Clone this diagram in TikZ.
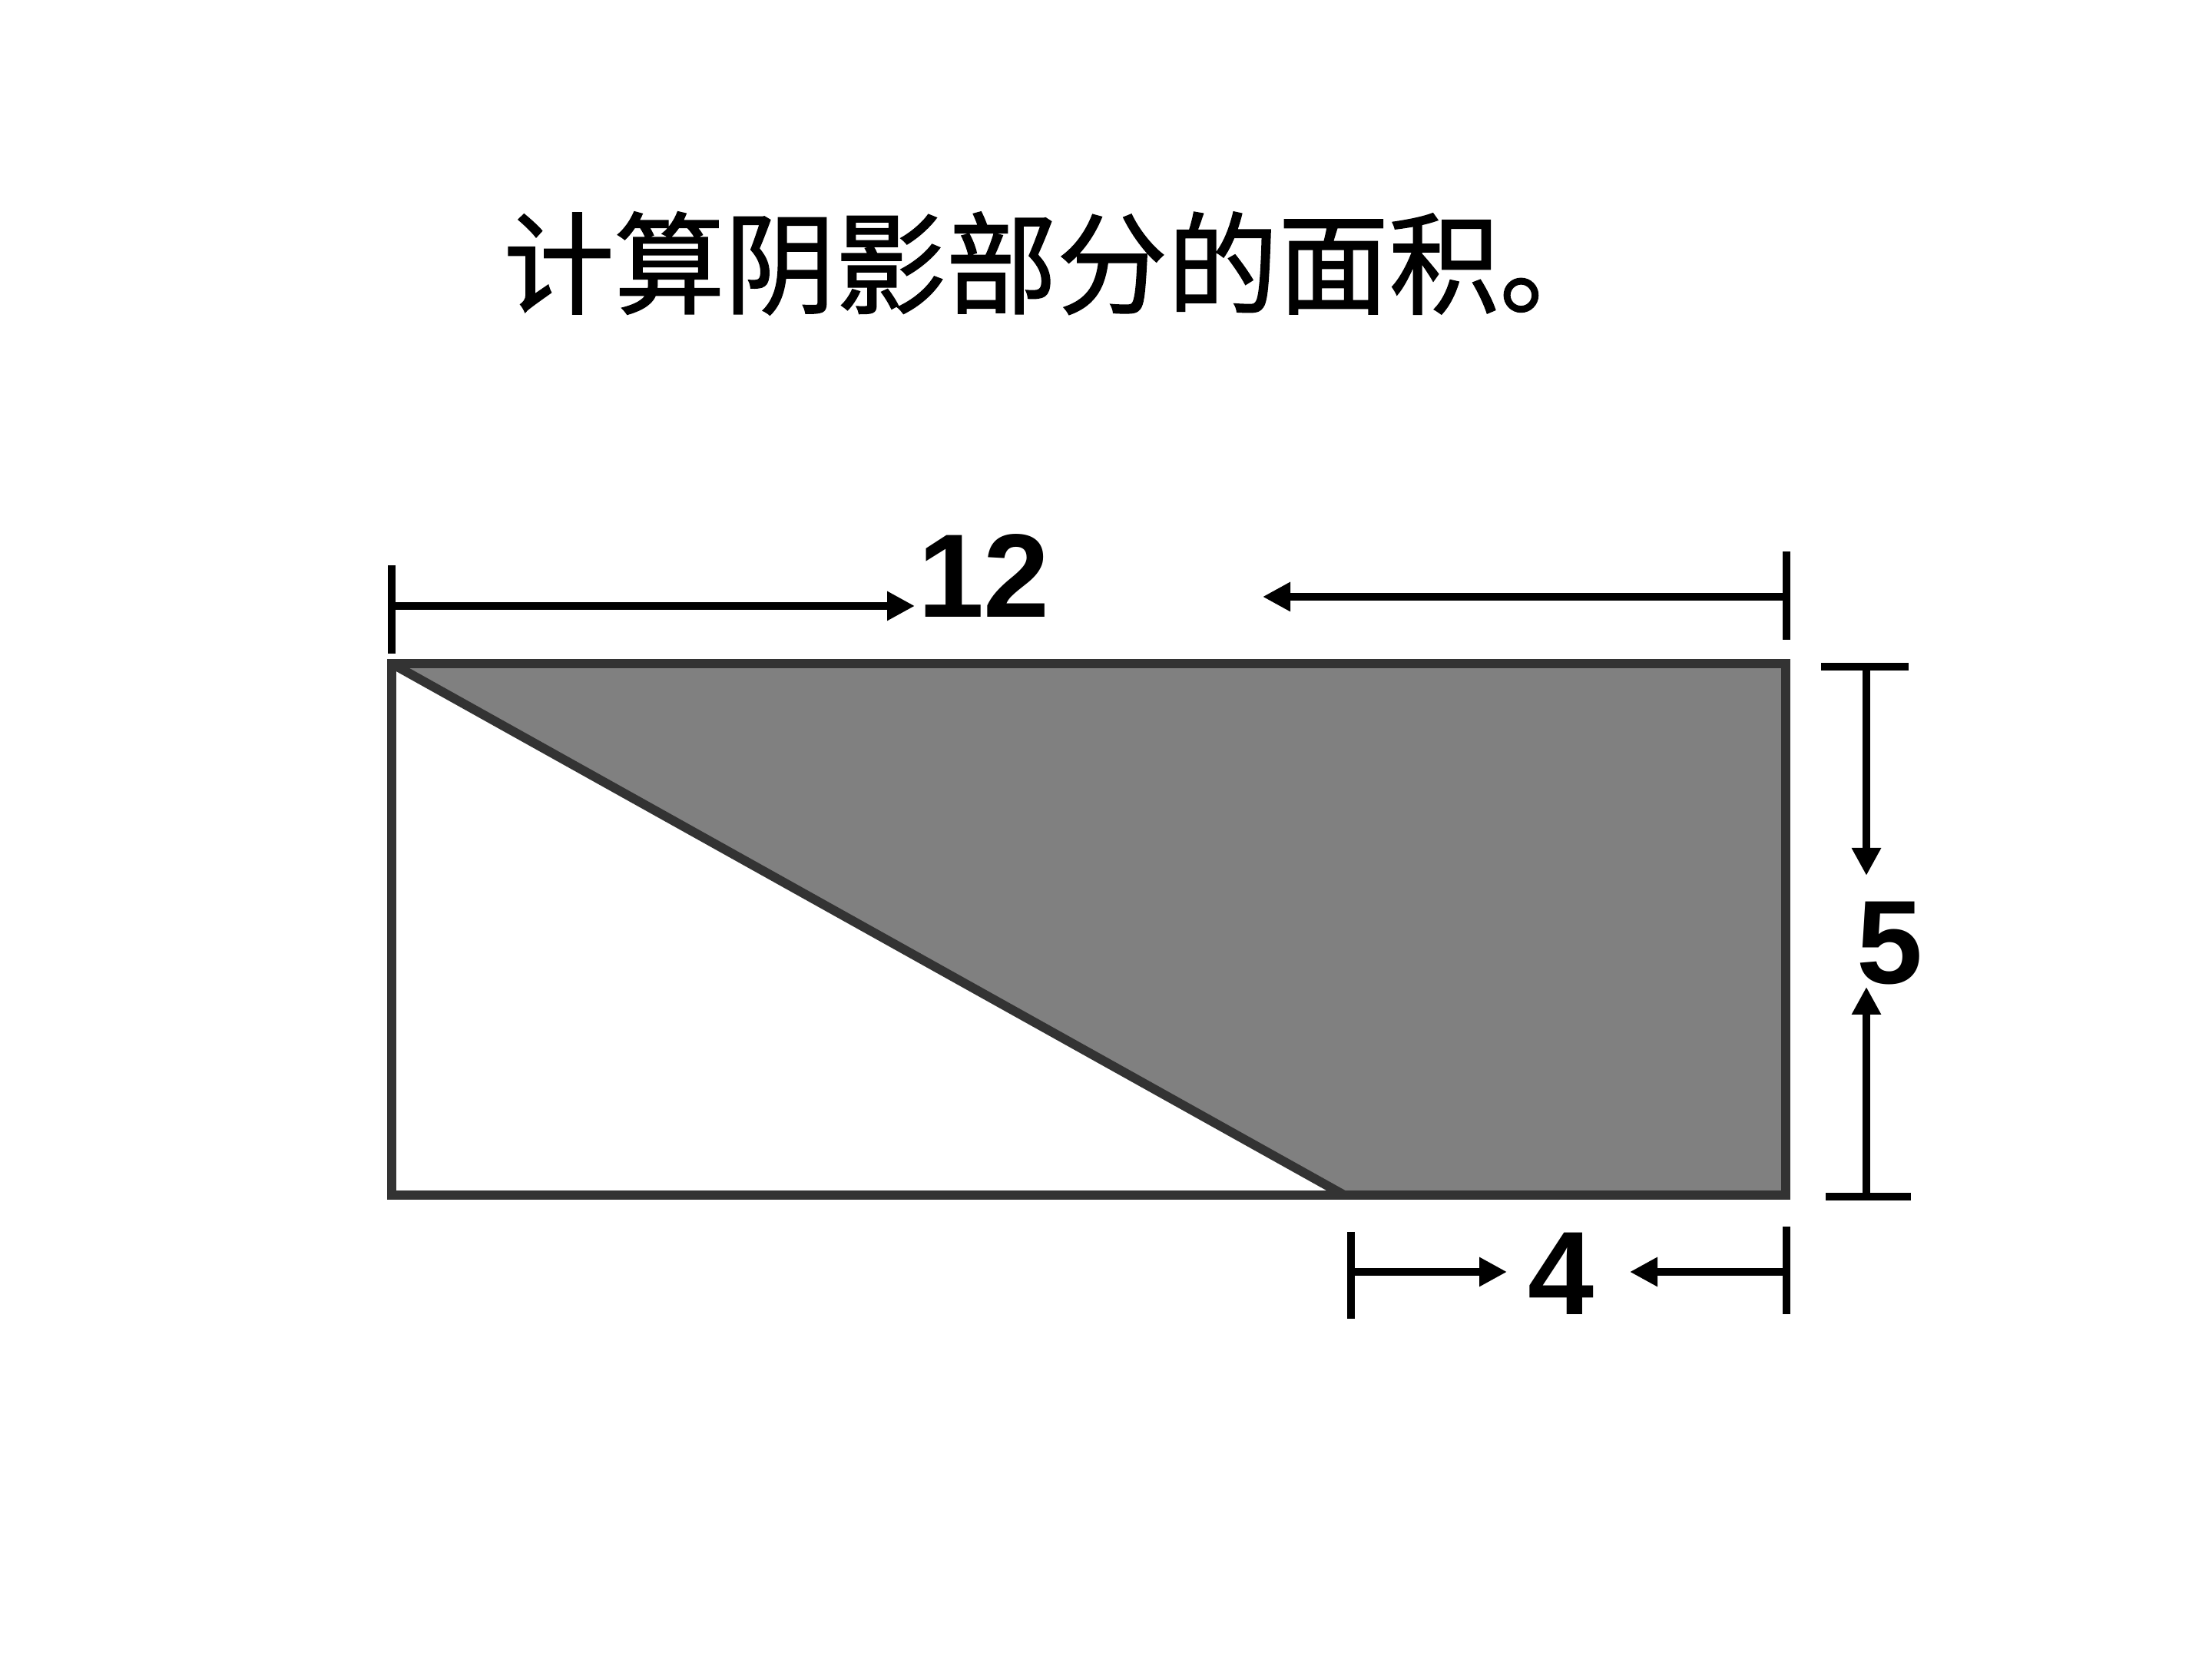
\documentclass[tikz,border=0pt]{standalone}
\usepackage{fontspec}
\setmainfont{Liberation Sans}
\newfontfamily\cjk[FakeBold=1.2]{Noto Sans CJK SC}
\usetikzlibrary{arrows.meta}

\begin{document}
\begin{tikzpicture}
  \tikzstyle{every node}+=[inner sep=0pt]
  \tikzstyle{dimline}=[black, line width=2.9pt]
  \tikzstyle{dimarrow}=[dimline, -{Triangle[length=0.36cm, width=0.36cm]}]
  \tikzstyle{numlabel}=[font=\fontsize{44}{44}\selectfont\bfseries]
  \fill [white] (0,0) rectangle (28.8,21.6);
  % title
  \node (title) at (13.76,18.17) {\cjk\fontsize{41}{41}\selectfont 计算阴影部分的面积。};
  % rectangle corners
  \coordinate (tl) at (5.10,12.96);
  \coordinate (tr) at (23.25,12.96);
  \coordinate (br) at (23.25,6.04);
  \coordinate (bl) at (5.10,6.04);
  \coordinate (cut) at (17.50,6.04);
  \fill [white] (tl) -- (tr) -- (br) -- (bl) -- cycle;
  \fill [gray] (tl) -- (tr) -- (br) -- (cut) -- cycle;
  \draw [black!80, line width=3.4pt, line join=miter] (tl) -- (tr) -- (br) -- (bl) -- cycle;
  \draw [black!80, line width=3.4pt] (tl) -- (cut);
  % 12
  \node [numlabel] (twelve) at (12.81,14.10) {12};
  \coordinate (t1a) at (5.10,14.24);
  \coordinate (t1b) at (5.10,13.09);
  \coordinate (t2a) at (23.26,14.42);
  \coordinate (t2b) at (23.26,13.27);
  \draw [dimline] (t1a) -- (t1b);
  \draw [dimline] (t2a) -- (t2b);
  \coordinate (a1s) at (5.10,13.71);
  \coordinate (a1e) at (11.91,13.71);
  \coordinate (a2s) at (23.26,13.83);
  \coordinate (a2e) at (16.44,13.83);
  \draw [dimarrow] (a1s) -- (a1e);
  \draw [dimarrow] (a2s) -- (a2e);
  % 5
  \node [numlabel] (five) at (24.60,9.32) {5};
  \coordinate (r1a) at (23.71,12.92);
  \coordinate (r1b) at (24.85,12.92);
  \coordinate (r2a) at (23.77,6.02);
  \coordinate (r2b) at (24.88,6.02);
  \draw [dimline] (r1a) -- (r1b);
  \draw [dimline] (r2a) -- (r2b);
  \coordinate (d1s) at (24.30,12.92);
  \coordinate (d1e) at (24.30,10.20);
  \coordinate (d2s) at (24.30,6.02);
  \coordinate (d2e) at (24.30,8.75);
  \draw [dimarrow] (d1s) -- (d1e);
  \draw [dimarrow] (d2s) -- (d2e);
  % 4
  \node [numlabel] (four) at (20.32,5.02) {4};
  \coordinate (b1a) at (17.59,5.56);
  \coordinate (b1b) at (17.59,4.43);
  \coordinate (b2a) at (23.26,5.63);
  \coordinate (b2b) at (23.26,4.49);
  \draw [dimline] (b1a) -- (b1b);
  \draw [dimline] (b2a) -- (b2b);
  \coordinate (c1s) at (17.59,5.04);
  \coordinate (c1e) at (19.62,5.04);
  \coordinate (c2s) at (23.26,5.04);
  \coordinate (c2e) at (21.22,5.04);
  \draw [dimarrow] (c1s) -- (c1e);
  \draw [dimarrow] (c2s) -- (c2e);
\end{tikzpicture}
\end{document}
